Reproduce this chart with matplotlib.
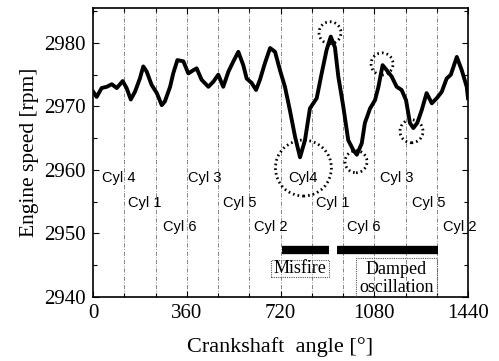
import matplotlib
matplotlib.use("Agg")
import matplotlib.pyplot as plt
from matplotlib.patches import Ellipse, Rectangle
import numpy as np

# ---- data ----
angle = [1, 14, 33, 53, 72, 91, 114, 129, 145, 161, 180, 193, 206, 225, 245, 264, 276, 296, 308, 324,
         347, 366, 385, 398, 417, 443, 462, 481, 500, 520, 539, 558, 577, 590, 609, 626, 641, 660,
         680, 699, 718, 737, 756, 776, 795, 814, 833, 859, 878, 897, 913, 929, 942, 961, 980, 1000,
         1013, 1032, 1044, 1064, 1083, 1096, 1112, 1128, 1147, 1166, 1185, 1202, 1217, 1230, 1245,
         1262, 1281, 1301, 1320, 1339, 1358, 1374, 1397, 1416, 1435, 1440]
speed = [2972.3, 2971.5, 2972.9, 2973.1, 2973.5, 2972.9, 2974.0, 2972.9, 2971.1, 2972.3, 2974.4,
         2976.3, 2975.5, 2973.4, 2972.1, 2970.2, 2970.8, 2973.1, 2975.2, 2977.3, 2977.1, 2975.2,
         2975.7, 2976.0, 2974.2, 2973.1, 2973.9, 2975.0, 2973.1, 2975.5, 2977.1, 2978.6, 2976.5,
         2974.4, 2973.7, 2972.6, 2974.2, 2976.8, 2979.2, 2978.6, 2975.7, 2973.1, 2969.4, 2965.2,
         2962.0, 2964.7, 2969.7, 2971.3, 2975.2, 2978.9, 2981.0, 2979.3, 2974.7, 2970.0, 2964.7,
         2963.1, 2962.4, 2964.2, 2967.4, 2969.7, 2971.0, 2973.1, 2976.5, 2975.7, 2974.7, 2973.1,
         2972.6, 2971.0, 2967.4, 2966.6, 2967.4, 2969.4, 2972.1, 2970.5, 2971.3, 2972.3, 2974.4,
         2975.0, 2977.8, 2975.7, 2973.1, 2971.3]

cyl_labels = ["Cyl 4", "Cyl 1", "Cyl 6", "Cyl 3", "Cyl 5", "Cyl 2",
              "Cyl4", "Cyl 1", "Cyl 6", "Cyl 3", "Cyl 5", "Cyl 2"]
cyl_x = [100, 200, 332, 430, 563, 682, 807, 922, 1041, 1168, 1291, 1410]
cyl_y = [2958.7, 2954.8, 2951.0, 2958.7, 2954.8, 2951.0,
         2958.7, 2954.8, 2951.0, 2958.7, 2954.8, 2951.0]

x_ticks = [0, 360, 720, 1080, 1440]
y_ticks = [2940, 2950, 2960, 2970, 2980]
cyl_lines = [120, 240, 360, 480, 600, 720, 840, 960, 1080, 1200, 1320]

misfire_span = [725, 907]
damped_span = [938, 1326]

serif = "Liberation Serif"
sans = "Liberation Sans"

fig = plt.figure(figsize=(4.99, 3.61), dpi=100)
ax = fig.add_axes([0.1864, 0.1773, 0.7515, 0.8005])

for xv in cyl_lines:
    ax.axvline(xv, color="0.45", lw=0.6, ls=(0, (5, 2, 1, 2)), zorder=1)

ax.plot(angle, speed, color="black", lw=2.8, zorder=3, solid_joinstyle="round")

for lab, xv, yv in zip(cyl_labels, cyl_x, cyl_y):
    ax.text(xv, yv, lab, family=sans, fontsize=10.5, ha="center", va="center", zorder=4)

# event bars
ax.plot(misfire_span, [2947.4, 2947.4], color="black", lw=6, solid_capstyle="butt", zorder=3)
ax.plot(damped_span, [2947.4, 2947.4], color="black", lw=6, solid_capstyle="butt", zorder=3)

# label boxes
ax.add_patch(Rectangle((682, 2943.2), 224, 2.7, fill=False, ec="0.35", lw=0.8, ls=(0, (1, 1)), zorder=4))
ax.text(794, 2944.5, "Misfire", family=serif, fontsize=13, ha="center", va="center", zorder=5)
ax.add_patch(Rectangle((1009, 2939.7), 313, 6.4, fill=False, ec="0.35", lw=0.8, ls=(0, (1, 1)),
                       zorder=4, clip_on=True))
ax.text(1165, 2944.4, "Damped", family=serif, fontsize=13, ha="center", va="center", zorder=5)
ax.text(1165, 2941.5, "oscillation", family=serif, fontsize=13, ha="center", va="center", zorder=5)

# dotted circles (pixel radius converted to data units)
px_x = 1440 / 375.0
px_y = 1 / 6.35
for cx, cy, r in [(910, 2981.6, 11), (808, 2960.3, 28), (1010, 2961.3, 11),
                  (1110, 2976.7, 11), (1223, 2966.1, 11.5)]:
    ax.add_patch(Ellipse((cx, cy), 2 * r * px_x, 2 * r * px_y, fill=False, ec="black",
                         lw=2.0, ls=(0, (0.6, 1.1)), zorder=5))

ax.set_xlim(0, 1440)
ax.set_ylim(2940, 2985.5)
ax.set_xticks(x_ticks)
ax.set_yticks(y_ticks)
ax.set_xticks(np.arange(0, 1441, 120), minor=True)
ax.set_yticks(np.arange(2940, 2986, 5), minor=True)
ax.tick_params(which="both", direction="in", top=True, right=True, width=0.8)
ax.tick_params(which="major", length=4, labelsize=15, pad=5)
ax.tick_params(which="minor", length=3)
for lab in ax.get_xticklabels() + ax.get_yticklabels():
    lab.set_family(serif)
for s in ax.spines.values():
    s.set_linewidth(1.2)

ax.set_xlabel("Crankshaft  angle [\u00b0]", family=serif, fontsize=16, labelpad=10)
ax.set_ylabel("Engine speed [rpm]", family=serif, fontsize=15.5, labelpad=4)

fig.savefig("out.png", dpi=100)
